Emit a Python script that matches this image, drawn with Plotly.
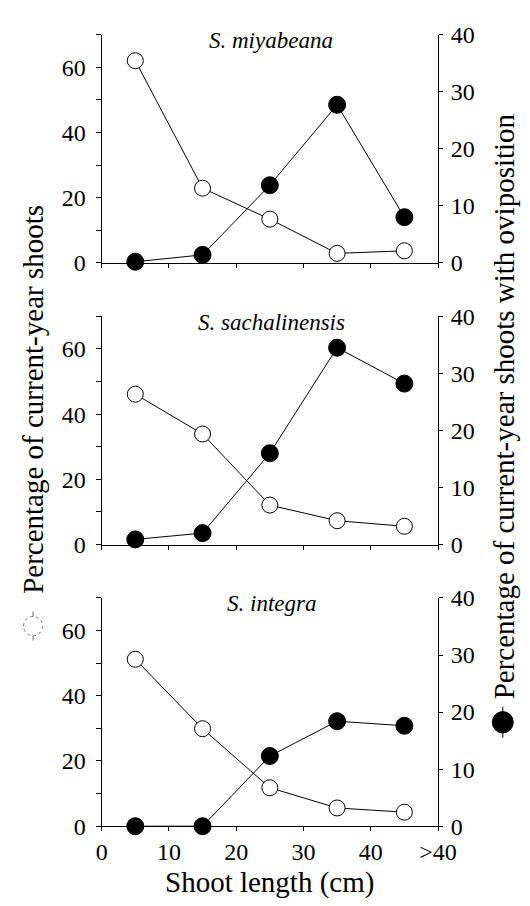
import plotly.graph_objects as go

# ---- data ----
shoot_length = [5, 15, 25, 35, 45]
x_tick_vals = [0, 10, 20, 30, 40, 50]
x_tick_text = ["0", "10", "20", "30", "40", ">40"]
species = ["S. miyabeana", "S. sachalinensis", "S. integra"]

# percentage of current-year shoots (open circles, left axis)
pct_shoots_miyabeana = [62.0, 22.9, 13.4, 2.9, 3.7]
pct_shoots_sachalinensis = [46.1, 33.9, 12.1, 7.3, 5.6]
pct_shoots_integra = [51.2, 29.9, 11.8, 5.6, 4.3]

# percentage of current-year shoots with oviposition (filled circles, right axis)
pct_ovi_miyabeana = [0.2, 1.4, 13.6, 27.7, 8.0]
pct_ovi_sachalinensis = [0.9, 2.0, 16.0, 34.5, 28.2]
pct_ovi_integra = [0.0, 0.0, 12.3, 18.4, 17.6]

left_ticks = [0, 20, 40, 60]
left_minor = [10, 30, 50, 70]
right_ticks = [0, 10, 20, 30, 40]

shoots = [pct_shoots_miyabeana, pct_shoots_sachalinensis, pct_shoots_integra]
ovis = [pct_ovi_miyabeana, pct_ovi_sachalinensis, pct_ovi_integra]

W, H = 530, 906
FONT = "Liberation Serif"


def px(x):
    return x / W


def py(y):
    return 1 - y / H


# panel pixel extents (top, bottom)
panels_px = [(14, 249), (304, 539), (594, 829)]
x_dom = [px(92), px(445)]

fig = go.Figure()
layout = dict(
    width=W, height=H,
    margin=dict(l=0, r=0, t=0, b=0),
    paper_bgcolor="white", plot_bgcolor="rgba(0,0,0,0)",
    showlegend=False,
    font=dict(family=FONT, size=22, color="black"),
)

annotations = []
for i in range(3):
    n = i + 1
    xa = "x" if n == 1 else f"x{n}"
    yl = "y" if n == 1 else f"y{n}"
    yr = f"y{n + 3}"
    top, bot = panels_px[i]
    dom = [py(bot), py(top)]

    layout["xaxis" if n == 1 else f"xaxis{n}"] = dict(
        domain=x_dom, anchor=yl, range=[0, 50],
        tickvals=x_tick_vals, ticktext=x_tick_text,
        showticklabels=(n == 3), ticks="outside", ticklen=4, tickwidth=1,
        tickcolor="black", showline=True, linecolor="black", linewidth=1,
        showgrid=False, zeroline=False,
        tickfont=dict(family=FONT, size=24),
    )
    layout["yaxis" if n == 1 else f"yaxis{n}"] = dict(
        domain=dom, anchor=xa, range=[0, 70],
        tickvals=left_ticks, ticks="outside", ticklen=5, tickwidth=1,
        tickcolor="black", showline=True, linecolor="black", linewidth=1,
        showgrid=False, zeroline=False, ticklabelstandoff=5,
        minor=dict(tickvals=left_minor, ticks="outside", ticklen=5,
                   tickcolor="black", tickwidth=1),
        tickfont=dict(family=FONT, size=24),
    )
    layout[f"yaxis{n + 3}"] = dict(
        domain=dom, anchor=xa, overlaying=yl, side="right", range=[0, 40],
        tickvals=right_ticks, ticks="outside", ticklen=4, tickwidth=1,
        tickcolor="black", showline=True, linecolor="black", linewidth=1,
        showgrid=False, zeroline=False, ticklabelstandoff=3,
        tickfont=dict(family=FONT, size=24),
    )

    fig.add_trace(go.Scatter(
        x=shoot_length, y=shoots[i], xaxis=xa, yaxis=yl,
        mode="lines+markers", cliponaxis=False,
        line=dict(color="black", width=1),
        marker=dict(symbol="circle", size=16, color="white",
                    line=dict(color="black", width=1)),
    ))
    fig.add_trace(go.Scatter(
        x=shoot_length, y=ovis[i], xaxis=xa, yaxis=yr,
        mode="lines+markers", cliponaxis=False,
        line=dict(color="black", width=1),
        marker=dict(symbol="circle", size=17, color="black",
                    line=dict(color="black", width=1)),
    ))

    annotations.append(dict(
        text=f"<i>{species[i]}</i>", xref="paper", yref="paper",
        x=px(270), y=py(top + 6), xanchor="center", yanchor="middle",
        showarrow=False, font=dict(family=FONT, size=23, color="black"),
    ))

# axis titles
annotations.append(dict(
    text="Percentage of current-year shoots", xref="paper", yref="paper",
    x=px(20), y=py(390), xanchor="center", yanchor="middle", textangle=-90,
    showarrow=False, font=dict(family=FONT, size=29, color="black"),
))
annotations.append(dict(
    text="Percentage of current-year shoots with oviposition", xref="paper",
    yref="paper", x=px(514), y=py(397), xanchor="center", yanchor="middle",
    textangle=-90, showarrow=False,
    font=dict(family=FONT, size=29, color="black"),
))
annotations.append(dict(
    text="Shoot length (cm)", xref="paper", yref="paper",
    x=px(268), y=py(887), xanchor="center", yanchor="middle",
    showarrow=False, font=dict(family=FONT, size=29, color="black"),
))
layout["annotations"] = annotations

# legend symbols next to axis titles
shapes = []
# open circle (left)
cx, cy, r = 20, 623, 10
shapes.append(dict(type="line", xref="paper", yref="paper",
                   x0=px(cx), x1=px(cx), y0=py(cy - 15), y1=py(cy + 15),
                   line=dict(color="#777", width=1)))
shapes.append(dict(type="circle", xref="paper", yref="paper",
                   x0=px(cx - r), x1=px(cx + r), y0=py(cy + r), y1=py(cy - r),
                   fillcolor="white", line=dict(color="#777", width=1, dash="dot")))
# filled circle (right)
cx, cy, r = 513, 722, 11
shapes.append(dict(type="line", xref="paper", yref="paper",
                   x0=px(cx), x1=px(cx), y0=py(cy - 16), y1=py(cy + 16),
                   line=dict(color="black", width=1)))
shapes.append(dict(type="circle", xref="paper", yref="paper",
                   x0=px(cx - r), x1=px(cx + r), y0=py(cy + r), y1=py(cy - r),
                   fillcolor="black", line=dict(color="black", width=1)))
layout["shapes"] = shapes

fig.update_layout(**layout)
fig.write_html("out.html")
